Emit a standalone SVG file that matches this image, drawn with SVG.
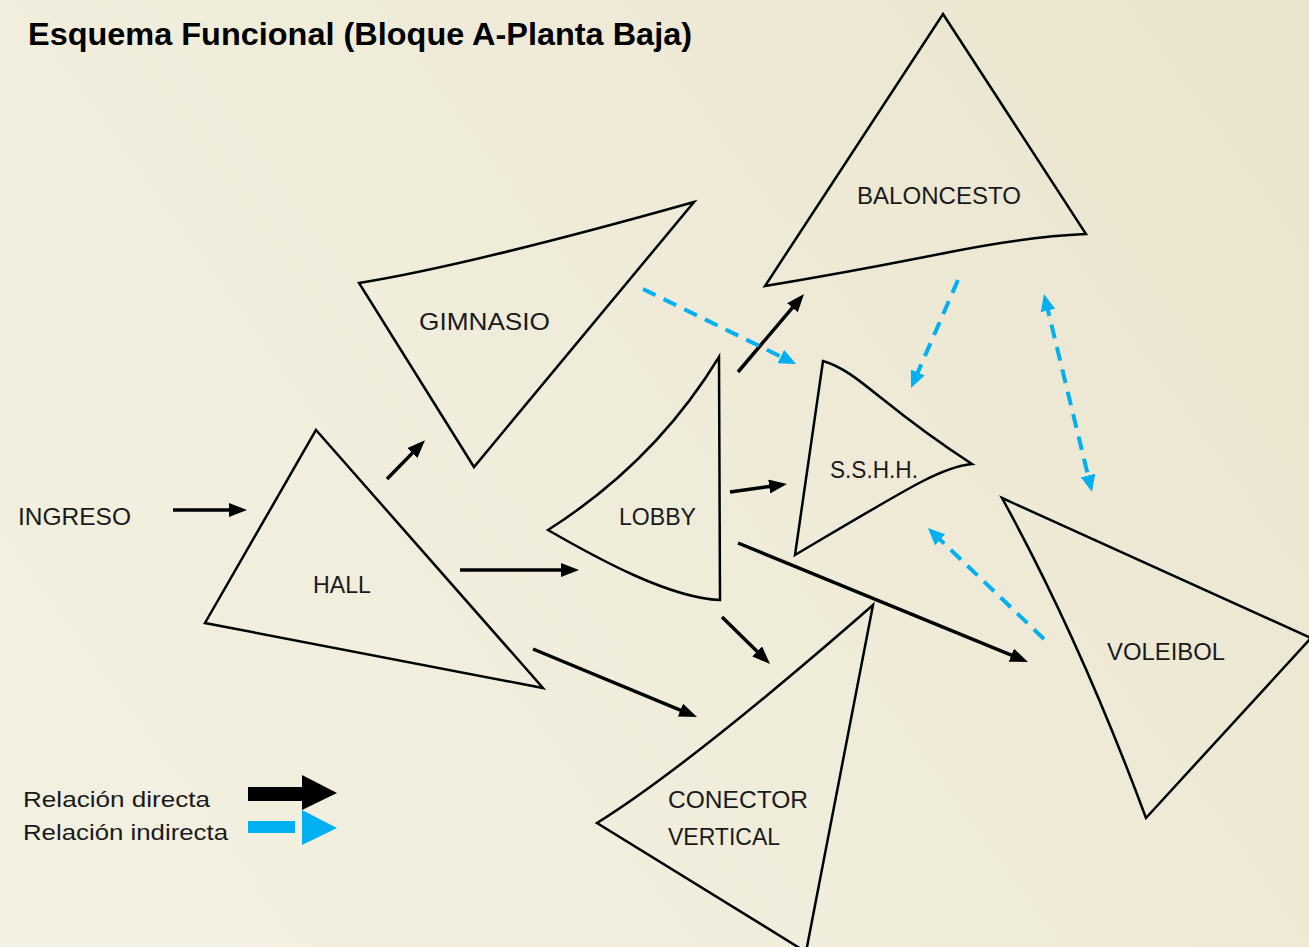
<svg xmlns="http://www.w3.org/2000/svg" width="1309" height="947" viewBox="0 0 1309 947">
<defs>
<linearGradient id="bg" x1="0" y1="947" x2="1309" y2="0" gradientUnits="userSpaceOnUse">
<stop offset="0" stop-color="#f3f1e2"/>
<stop offset="0.5" stop-color="#f0ecda"/>
<stop offset="1" stop-color="#eae4cd"/>
</linearGradient>
<marker id="ah" markerUnits="userSpaceOnUse" markerWidth="18" markerHeight="14" refX="9" refY="7" orient="auto">
<path d="M0,0 L18,7 L0,14 z" fill="#000"/>
</marker>
<marker id="bh" markerUnits="userSpaceOnUse" markerWidth="17" markerHeight="15" refX="8.5" refY="7.5" orient="auto-start-reverse">
<path d="M0,0 L17,7.5 L0,15 z" fill="#00b0f0"/>
</marker>
<style>
.shape{fill:none;stroke:#000;stroke-width:2.5;stroke-linejoin:miter}
.lbl{font-family:"Liberation Sans",Arial,sans-serif;font-size:24px;fill:#1a1a1a}
.leg{font-family:"Liberation Sans",Arial,sans-serif;font-size:22px;fill:#1a1a1a}
.title{font-family:"Liberation Sans",Arial,sans-serif;font-size:32px;font-weight:bold;fill:#000}
.dir{stroke:#000;stroke-width:3.5;fill:none;marker-end:url(#ah)}
.ind{stroke:#00b0f0;stroke-width:4;fill:none;stroke-dasharray:14 9;marker-end:url(#bh)}
</style>
</defs>
<rect x="0" y="0" width="1309" height="947" fill="url(#bg)"/>
<text class="title" x="28" y="45" textLength="664" lengthAdjust="spacingAndGlyphs">Esquema Funcional (Bloque A-Planta Baja)</text>

<g id="baloncesto">
<path class="shape" d="M943,14 L1086,234 C1040,236 1000,242 950,252 C900,262 850,272 765,286 Z"/>
<text class="lbl" x="857" y="204" textLength="164" lengthAdjust="spacingAndGlyphs">BALONCESTO</text>
</g>
<g id="gimnasio">
<path class="shape" d="M359,283 Q470,265 694,202 L474,467 Z"/>
<text class="lbl" x="419" y="330" textLength="131" lengthAdjust="spacingAndGlyphs">GIMNASIO</text>
</g>
<g id="hall">
<path class="shape" d="M316,430 L543,688 L205,623 Z"/>
<text class="lbl" x="313" y="593" textLength="58" lengthAdjust="spacingAndGlyphs">HALL</text>
</g>
<g id="lobby">
<path class="shape" d="M719,357 L720,600 C670,598 600,560 548,530 Q655,462 719,357 Z"/>
<text class="lbl" x="619" y="525" textLength="77" lengthAdjust="spacingAndGlyphs">LOBBY</text>
</g>
<g id="sshh">
<path class="shape" d="M823,361 C860,372 880,405 972,464 C942,467 915,484 795,555 Z"/>
<text class="lbl" x="830" y="478" textLength="88" lengthAdjust="spacingAndGlyphs">S.S.H.H.</text>
</g>
<g id="voleibol">
<path class="shape" d="M1002,498 L1311,638 L1146,818 Q1080,640 1002,498 Z"/>
<text class="lbl" x="1107" y="660" textLength="118" lengthAdjust="spacingAndGlyphs">VOLEIBOL</text>
</g>
<g id="conector">
<path class="shape" d="M873,605 L806,952 L597,823 Q690,765 873,605 Z"/>
<text class="lbl" x="668" y="808" textLength="140" lengthAdjust="spacingAndGlyphs">CONECTOR</text>
<text class="lbl" x="668" y="845" textLength="112" lengthAdjust="spacingAndGlyphs">VERTICAL</text>
</g>
<g id="ingreso">
<text class="lbl" x="18" y="525" textLength="113" lengthAdjust="spacingAndGlyphs">INGRESO</text>
</g>

<g id="connectors">
<line class="dir" x1="173" y1="510" x2="238" y2="510"/>
<line class="dir" x1="387" y1="479" x2="418.7" y2="446.6"/>
<line class="dir" x1="460" y1="570" x2="570" y2="570"/>
<line class="dir" x1="533" y1="649" x2="688.7" y2="713.6"/>
<line class="dir" x1="738" y1="372" x2="798.2" y2="300.9"/>
<line class="dir" x1="730" y1="492" x2="778.1" y2="485.3"/>
<line class="dir" x1="722" y1="617" x2="763.6" y2="657.7"/>
<line class="dir" x1="738" y1="543" x2="1019.7" y2="658.6"/>
<line class="ind" x1="643" y1="289" x2="788.4" y2="360.3"/>
<line class="ind" x1="958" y1="280" x2="914.4" y2="380.2"/>
<line class="ind" x1="1046" y1="302.3" x2="1090" y2="483.7" style="marker-start:url(#bh)"/>
<line class="ind" x1="1044" y1="639" x2="934.1" y2="533.9"/>
</g>

<g id="legend">
<text class="leg" x="23" y="807" textLength="187" lengthAdjust="spacingAndGlyphs">Relación directa</text>
<text class="leg" x="23" y="840" textLength="205" lengthAdjust="spacingAndGlyphs">Relación indirecta</text>
<rect x="248" y="787" width="56" height="14" fill="#000"/>
<path d="M302,775 L337,793 L302,810 Z" fill="#000"/>
<rect x="248" y="821" width="47" height="12" fill="#00b0f0"/>
<path d="M302,810 L337,828 L302,845 Z" fill="#00b0f0"/>
</g>
</svg>
